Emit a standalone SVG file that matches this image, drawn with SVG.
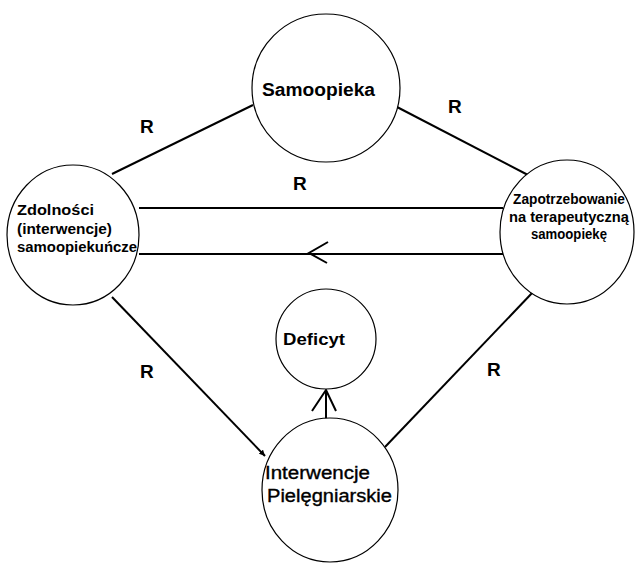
<svg xmlns="http://www.w3.org/2000/svg" width="635" height="564" viewBox="0 0 635 564">
<style>
.node{fill:#fff;stroke:#000;stroke-width:1.2}
.conn{stroke:#000;stroke-width:2;fill:none}
.t{font-family:"Liberation Sans",Arial,sans-serif;font-weight:bold;fill:#000}
.n{font-family:"Liberation Sans",Arial,sans-serif;font-weight:normal;fill:#000;stroke:#000;stroke-width:0.35}
.r{font-family:"Liberation Sans",Arial,sans-serif;font-weight:bold;font-size:19px;fill:#000}
</style>
<defs>
<marker id="tip" viewBox="0 0 10 10" refX="10" refY="5" markerWidth="6" markerHeight="6" orient="auto" markerUnits="userSpaceOnUse">
<path d="M0,0 L10,5 L0,10 z" fill="#000"/>
</marker>
</defs>
<rect width="635" height="564" fill="#fff"/>
<g id="connectors">
<line class="conn" x1="253" y1="105" x2="112" y2="174"/>
<line class="conn" x1="397" y1="107" x2="528" y2="175"/>
<line class="conn" x1="139" y1="208" x2="503" y2="208"/>
<line class="conn" x1="139" y1="254" x2="503" y2="254"/>
<polyline class="conn" points="328,242 309,253 327,263"/>
<line class="conn" stroke-width="1.6" x1="112" y1="297" x2="265" y2="456" marker-end="url(#tip)"/>
<line class="conn" stroke-width="1.6" x1="533" y1="292" x2="385" y2="447"/>
<line class="conn" x1="326" y1="419" x2="326" y2="390"/>
<polyline class="conn" points="312,411 326,390 336,411"/>
</g>
<g id="samoopieka">
<circle class="node" cx="326" cy="88" r="74"/>
<text class="t" x="262" y="96" font-size="18" textLength="113" lengthAdjust="spacingAndGlyphs">Samoopieka</text>
</g>
<g id="zdolnosci">
<ellipse class="node" cx="73" cy="235" rx="66" ry="70"/>
<text class="t" x="17" y="215" font-size="14" textLength="77" lengthAdjust="spacingAndGlyphs">Zdolności</text>
<text class="t" x="17" y="234" font-size="14" textLength="95" lengthAdjust="spacingAndGlyphs">(interwencje)</text>
<text class="t" x="17" y="252" font-size="14" textLength="120" lengthAdjust="spacingAndGlyphs">samoopiekuńcze</text>
</g>
<g id="zapotrzebowanie">
<ellipse class="node" cx="567" cy="232" rx="67" ry="72"/>
<text class="t" x="513" y="204" font-size="14.5" textLength="112" lengthAdjust="spacingAndGlyphs">Zapotrzebowanie</text>
<text class="t" x="509" y="222" font-size="14.5" textLength="120" lengthAdjust="spacingAndGlyphs">na terapeutyczną</text>
<text class="t" x="569" y="239" font-size="14.5" text-anchor="middle" textLength="76" lengthAdjust="spacingAndGlyphs">samoopiekę</text>
</g>
<g id="deficyt">
<circle class="node" cx="326" cy="339" r="50"/>
<text class="t" x="283" y="345" font-size="17" textLength="62" lengthAdjust="spacingAndGlyphs">Deficyt</text>
</g>
<g id="interwencje">
<ellipse class="node" cx="330" cy="490" rx="68" ry="72"/>
<text class="n" x="265" y="479" font-size="17.5" textLength="105" lengthAdjust="spacingAndGlyphs">Interwencje</text>
<text class="n" x="267" y="502" font-size="17.5" textLength="125" lengthAdjust="spacingAndGlyphs">Pielęgniarskie</text>
</g>
<g id="labels">
<text class="r" x="140" y="133">R</text>
<text class="r" x="448" y="113">R</text>
<text class="r" x="293" y="190">R</text>
<text class="r" x="140" y="378">R</text>
<text class="r" x="487" y="376">R</text>
</g>
</svg>
